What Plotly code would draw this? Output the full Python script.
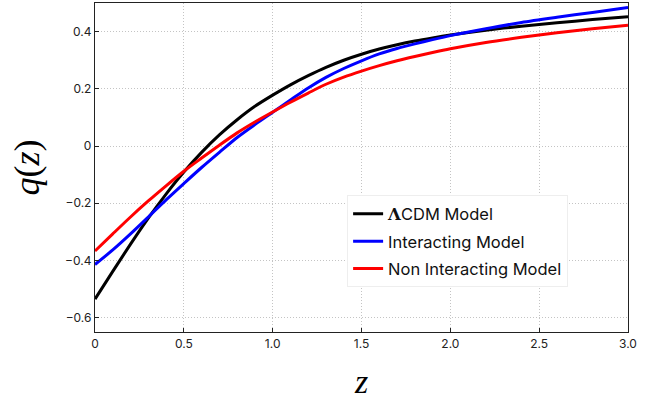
import plotly.graph_objects as go

# redshift grid
z_vals = [0.0, 0.1, 0.2, 0.3, 0.4, 0.5, 0.6, 0.7, 0.8, 0.9, 1.0, 1.1, 1.2, 1.3, 1.4,
          1.5, 1.6, 1.7, 1.8, 1.9, 2.0, 2.2, 2.4, 2.6, 2.8, 3.0]

# deceleration parameter q(z)
q_lcdm = [-0.535, -0.438, -0.343, -0.252, -0.168, -0.091, -0.022, 0.039, 0.092, 0.139,
          0.178, 0.214, 0.246, 0.275, 0.300, 0.321, 0.339, 0.354, 0.367, 0.378,
          0.388, 0.405, 0.419, 0.431, 0.442, 0.452]
q_inter = [-0.414, -0.363, -0.307, -0.248, -0.188, -0.131, -0.075, -0.022, 0.030, 0.075,
           0.118, 0.161, 0.203, 0.240, 0.271, 0.298, 0.322, 0.341, 0.357, 0.372,
           0.386, 0.410, 0.432, 0.450, 0.467, 0.484]
q_noninter = [-0.367, -0.307, -0.248, -0.192, -0.139, -0.088, -0.042, 0.003, 0.046, 0.084,
              0.119, 0.153, 0.185, 0.216, 0.241, 0.262, 0.281, 0.298, 0.313, 0.327,
              0.340, 0.362, 0.380, 0.396, 0.410, 0.422]

series_names = ['<span style="font-family:\'DejaVu Serif\'"><b>Λ</b></span>CDM Model',
                "Interacting Model", "Non Interacting Model"]
series_colors = ["#000000", "#0000ff", "#ff0000"]

x_tickvals = [0, 0.5, 1.0, 1.5, 2.0, 2.5, 3.0]
x_ticktext = ["0", "0.5", "1.0", "1.5", "2.0", "2.5", "3.0"]
y_tickvals = [-0.6, -0.4, -0.2, 0, 0.2, 0.4]
y_ticktext = ["\u22120.6", "\u22120.4", "\u22120.2", "0", "0.2", "0.4"]

fig = go.Figure()
for name, ys, col in zip(series_names, [q_lcdm, q_inter, q_noninter], series_colors):
    fig.add_trace(go.Scatter(x=z_vals, y=ys, mode="lines", name=name, legendgroup=name,
                             line=dict(color=col, width=3, shape="spline", smoothing=0.8)))

axis_common = dict(showline=True, linecolor="#222222", linewidth=1.3, mirror=True,
                   ticks="inside", ticklen=4, tickcolor="#222222",
                   showgrid=True, gridcolor="#c4c4c4", griddash="1px,2px", gridwidth=1,
                   zeroline=False, tickfont=dict(family="Inter", size=12, color="#222222"))

fig.update_xaxes(range=[0, 3.0], tickvals=x_tickvals, ticktext=x_ticktext,
                 title=dict(text="<i>z</i>", font=dict(family="Liberation Serif", size=34, color="#000"),
                            standoff=20),
                 **axis_common)
fig.update_yaxes(range=[-0.65, 0.5], tickvals=y_tickvals, ticktext=y_ticktext,
                 title=dict(text="<i>q</i>(<i>z</i>)", font=dict(family="Liberation Serif", size=36, color="#000"),
                            standoff=14),
                 **axis_common)

fig.update_layout(
    width=657, height=400,
    margin=dict(l=95, r=29, t=3, b=68),
    paper_bgcolor="white", plot_bgcolor="white",
    showlegend=True,
    legend=dict(x=0.473, y=0.415, xanchor="left", yanchor="top",
                bgcolor="white", bordercolor="#eeeeee", borderwidth=1,
                font=dict(family="Inter", size=16.5, color="#111111"),
                traceorder="grouped", tracegroupgap=3),
)

fig.write_html("out.html", config={"displayModeBar": False},
               post_script="document.body.style.margin='0px';")
